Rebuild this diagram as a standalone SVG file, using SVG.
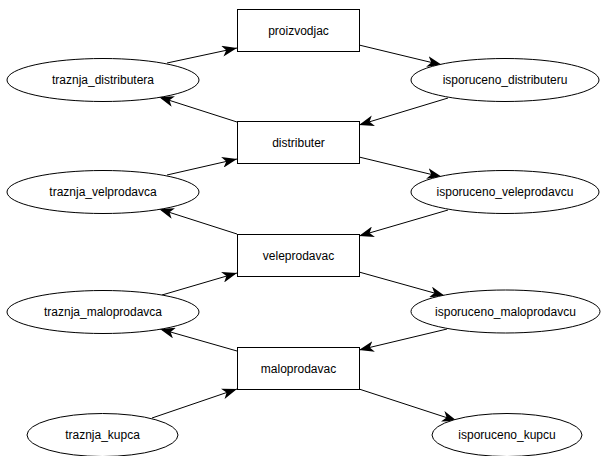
<svg xmlns="http://www.w3.org/2000/svg" width="601" height="456" viewBox="0 0 601 456">
<defs>
<marker id="arr" viewBox="0 0 15 11" refX="15" refY="5.5" markerWidth="15" markerHeight="11" markerUnits="userSpaceOnUse" orient="auto">
<path d="M0,0 L15,5.5 L0,11 L4,5.5 z" fill="#000"/>
</marker>
<style>
.n{fill:#fff;stroke:#000;stroke-width:1}
.t{font-family:"Liberation Sans",Arial,sans-serif;font-size:12px;fill:#000;text-anchor:middle;dominant-baseline:central}
.e{stroke:#000;stroke-width:1;fill:none;marker-end:url(#arr)}
</style>
</defs>
<rect width="601" height="456" fill="#fff"/>
<g id="connectors">
<line class="e" x1="167" y1="63" x2="237" y2="48"/>
<line class="e" x1="237" y1="122" x2="159" y2="97"/>
<line class="e" x1="359" y1="45" x2="442" y2="65"/>
<line class="e" x1="448" y1="98" x2="359" y2="125"/>
<line class="e" x1="359" y1="157" x2="442" y2="177"/>
<line class="e" x1="167" y1="175" x2="237" y2="159"/>
<line class="e" x1="237" y1="234" x2="159" y2="209"/>
<line class="e" x1="448" y1="210" x2="359" y2="236"/>
<line class="e" x1="359" y1="272" x2="445" y2="296"/>
<line class="e" x1="162" y1="295" x2="237" y2="273"/>
<line class="e" x1="237" y1="351" x2="160" y2="329"/>
<line class="e" x1="447" y1="329" x2="359" y2="350"/>
<line class="e" x1="359" y1="389" x2="457" y2="421"/>
<line class="e" x1="152" y1="418" x2="237" y2="389"/>
</g>
<g id="proizvodjac"><rect class="n" x="237.5" y="9.5" width="122" height="42"/><text class="t" x="298.5" y="30.5">proizvodjac</text></g>
<g id="distributer"><rect class="n" x="237.5" y="121.5" width="122" height="42"/><text class="t" x="298.5" y="142.5">distributer</text></g>
<g id="veleprodavac"><rect class="n" x="237.5" y="234.5" width="122" height="42"/><text class="t" x="298.5" y="255.5">veleprodavac</text></g>
<g id="maloprodavac"><rect class="n" x="237.5" y="347.5" width="122" height="42"/><text class="t" x="298.5" y="368.5">maloprodavac</text></g>
<g id="traznja_distributera"><ellipse class="n" cx="103" cy="80" rx="96" ry="21.5"/><text class="t" x="103" y="80">traznja_distributera</text></g>
<g id="traznja_velprodavca"><ellipse class="n" cx="103" cy="192" rx="96" ry="21.5"/><text class="t" x="103" y="192">traznja_velprodavca</text></g>
<g id="traznja_maloprodavca"><ellipse class="n" cx="103" cy="312" rx="96" ry="21.5"/><text class="t" x="103" y="312">traznja_maloprodavca</text></g>
<g id="traznja_kupca"><ellipse class="n" cx="102.5" cy="435" rx="75.5" ry="21.5"/><text class="t" x="102.5" y="435">traznja_kupca</text></g>
<g id="isporuceno_distributeru"><ellipse class="n" cx="505" cy="80" rx="94" ry="21.5"/><text class="t" x="505" y="80">isporuceno_distributeru</text></g>
<g id="isporuceno_veleprodavcu"><ellipse class="n" cx="505" cy="192" rx="94" ry="21.5"/><text class="t" x="505" y="192">isporuceno_veleprodavcu</text></g>
<g id="isporuceno_maloprodavcu"><ellipse class="n" cx="505.5" cy="311.5" rx="94.5" ry="21.5"/><text class="t" x="505.5" y="311.5">isporuceno_maloprodavcu</text></g>
<g id="isporuceno_kupcu"><ellipse class="n" cx="507" cy="435" rx="75" ry="21.5"/><text class="t" x="507" y="435">isporuceno_kupcu</text></g>
</svg>
